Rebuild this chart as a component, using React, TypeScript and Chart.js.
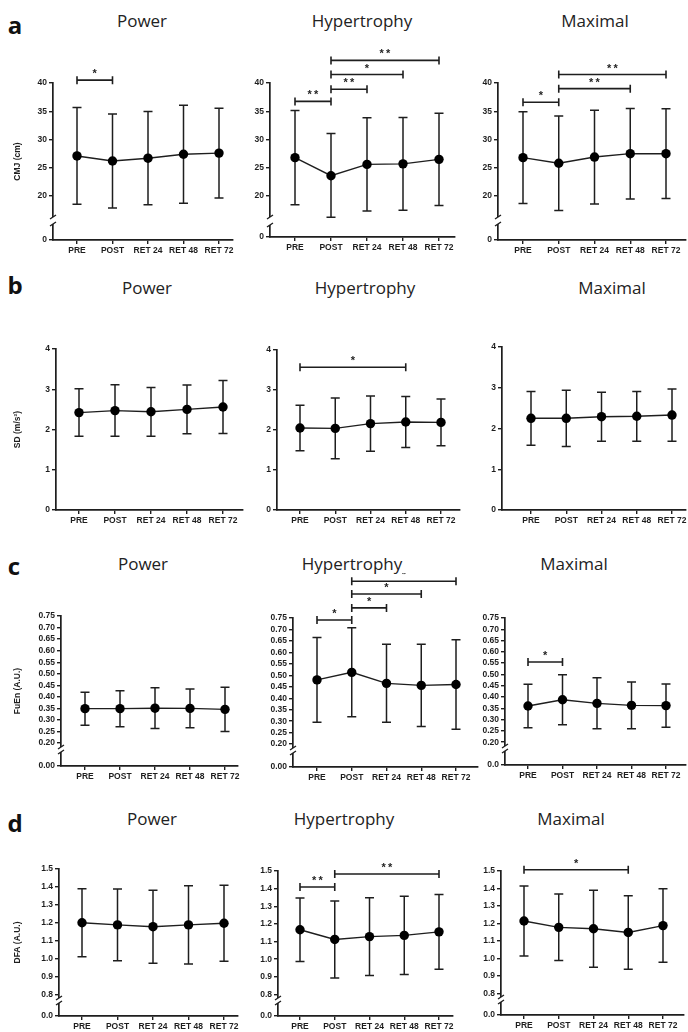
import React, { useEffect, useRef } from 'react';
import { Chart, registerables, LinearScale } from 'chart.js';

// ---------- DATA ----------
const categories = ['PRE', 'POST', 'RET 24', 'RET 48', 'RET 72'];

const cmjTickValues = [0, 20, 25, 30, 35, 40];
const cmjTickLabels = ['0', '20', '25', '30', '35', '40'];
const cmjPowerMean = [27.1, 26.2, 26.7, 27.4, 27.6];
const cmjPowerSD = [8.55, 8.3, 8.25, 8.65, 7.95];
const cmjHypMean = [26.8, 23.6, 25.6, 25.7, 26.5];
const cmjHypSD = [8.35, 7.45, 8.25, 8.2, 8.15];
const cmjMaxMean = [26.8, 25.8, 26.9, 27.5, 27.5];
const cmjMaxSD = [8.1, 8.35, 8.3, 8.0, 7.95];
const cmjPowerSig: [number, number, string, number][] = [[0, 1, '*', 40.5]];
const cmjHypSig: [number, number, string, number][] = [[0, 1, '**', 36.75], [1, 2, '**', 38.9], [1, 3, '*', 41.5], [1, 4, '**', 44.0]];
const cmjMaxSig: [number, number, string, number][] = [[0, 1, '*', 36.6], [1, 3, '**', 39.0], [1, 4, '**', 41.5]];

const sdTickValues = [0, 1, 2, 3, 4];
const sdTickLabels = ['0', '1', '2', '3', '4'];
const sdPowerMean = [2.42, 2.47, 2.44, 2.5, 2.56];
const sdPowerSD = [0.59, 0.64, 0.605, 0.605, 0.66];
const sdHypMean = [2.05, 2.04, 2.16, 2.2, 2.19];
const sdHypSD = [0.57, 0.76, 0.69, 0.64, 0.585];
const sdMaxMean = [2.25, 2.25, 2.29, 2.3, 2.33];
const sdMaxSD = [0.66, 0.69, 0.6, 0.61, 0.64];
const sdHypSig: [number, number, string, number][] = [[0, 3, '*', 3.57]];

const fuTickValues = [0, 0.2, 0.25, 0.3, 0.35, 0.4, 0.45, 0.5, 0.55, 0.6, 0.65, 0.7, 0.75];
const fuTickLabels = ['0.00', '0.20', '0.25', '0.30', '0.35', '0.40', '0.45', '0.50', '0.55', '0.60', '0.65', '0.70', '0.75'];
const fuMaxTickLabels = ['0.0', '0.20', '0.25', '0.30', '0.35', '0.40', '0.45', '0.50', '0.55', '0.60', '0.65', '0.70', '0.75'];
const fuPowerMean = [0.349, 0.349, 0.351, 0.35, 0.346];
const fuPowerSD = [0.0715, 0.078, 0.088, 0.0835, 0.0955];
const fuHypMean = [0.48, 0.513, 0.465, 0.456, 0.46];
const fuHypSD = [0.185, 0.194, 0.17, 0.179, 0.195];
const fuMaxMean = [0.36, 0.388, 0.372, 0.363, 0.362];
const fuMaxSD = [0.096, 0.111, 0.113, 0.104, 0.096];
const fuHypSig: [number, number, string, number][] = [[0, 1, '*', 0.741], [1, 2, '*', 0.794], [1, 3, '*', 0.855], [1, 4, '*', 0.91]];
const fuMaxSig: [number, number, string, number][] = [[0, 1, '*', 0.555]];

const dfaTickValues = [0, 0.8, 0.9, 1.0, 1.1, 1.2, 1.3, 1.4, 1.5];
const dfaTickLabels = ['0.0', '0.8', '0.9', '1.0', '1.1', '1.2', '1.3', '1.4', '1.5'];
const dfaPowerMean = [1.2, 1.188, 1.178, 1.188, 1.197];
const dfaPowerSD = [0.19, 0.2, 0.204, 0.218, 0.212];
const dfaHypMean = [1.167, 1.112, 1.128, 1.135, 1.155];
const dfaHypSD = [0.18, 0.218, 0.22, 0.222, 0.212];
const dfaMaxMean = [1.214, 1.178, 1.17, 1.149, 1.188];
const dfaMaxSD = [0.2, 0.19, 0.22, 0.21, 0.21];
const dfaHypSig: [number, number, string, number][] = [[0, 1, '**', 1.409], [1, 4, '**', 1.483]];
const dfaMaxSig: [number, number, string, number][] = [[0, 3, '*', 1.507]];

// ---------- custom broken-axis scale ----------
class BrokenScale extends LinearScale {
  static id = 'broken';
  static defaults = LinearScale.defaults;
  getPixelForValue(value: number) {
    const b = (this.options as any).brk;
    if (!b || !b.on) return super.getPixelForValue(value);
    const top = this.top;
    const bottom = this.bottom;
    const segBottom = bottom - b.gap;
    if (value < b.u) return bottom - (value / b.u) * b.gap;
    return segBottom - ((value - b.u) / ((this.max as number) - b.u)) * (segBottom - top);
  }
}
Chart.register(...registerables, BrokenScale);

// ---------- layout ----------
type Sig = [number, number, string, number];
interface Panel {
  mean: number[]; sd: number[]; sig: Sig[];
  tickValues: number[]; tickLabels: string[]; max: number;
  brk: { on: boolean; u: number; gap: number; low: number };
  axisX: number; firstX: number; lastX: number; xEnd: number; yTop: number; yBot: number;
  col: number; yTitle: string;
}

const cmjBrk = { on: true, u: 16.3, gap: 23, low: 16 };
const fuBrk = { on: true, u: 0.183, gap: 19, low: 14 };
const dfaBrk = { on: true, u: 0.78, gap: 18, low: 13 };
const noBrk = { on: false, u: 0, gap: 0, low: 0 };

const panels: Panel[] = [
  { mean: cmjPowerMean, sd: cmjPowerSD, sig: cmjPowerSig, tickValues: cmjTickValues, tickLabels: cmjTickLabels, max: 40, brk: cmjBrk, axisX: 53, firstX: 77, lastX: 219, xEnd: 233, yTop: 83, yBot: 240, col: 0, yTitle: 'CMJ (cm)' },
  { mean: cmjHypMean, sd: cmjHypSD, sig: cmjHypSig, tickValues: cmjTickValues, tickLabels: cmjTickLabels, max: 40, brk: { on: true, u: 16.3, gap: 20, low: 12 }, axisX: 270, firstX: 295, lastX: 439, xEnd: 455, yTop: 83, yBot: 237, col: 1, yTitle: '' },
  { mean: cmjMaxMean, sd: cmjMaxSD, sig: cmjMaxSig, tickValues: cmjTickValues, tickLabels: cmjTickLabels, max: 40, brk: cmjBrk, axisX: 498, firstX: 523, lastX: 666, xEnd: 686, yTop: 83, yBot: 240, col: 2, yTitle: '' },

  { mean: sdPowerMean, sd: sdPowerSD, sig: [], tickValues: sdTickValues, tickLabels: sdTickLabels, max: 4, brk: noBrk, axisX: 56, firstX: 79, lastX: 223, xEnd: 243, yTop: 349, yBot: 510, col: 0, yTitle: 'SD (m/s²)' },
  { mean: sdHypMean, sd: sdHypSD, sig: sdHypSig, tickValues: sdTickValues, tickLabels: sdTickLabels, max: 4, brk: noBrk, axisX: 277, firstX: 300, lastX: 441, xEnd: 460, yTop: 350, yBot: 510, col: 1, yTitle: '' },
  { mean: sdMaxMean, sd: sdMaxSD, sig: [], tickValues: sdTickValues, tickLabels: sdTickLabels, max: 4, brk: noBrk, axisX: 502, firstX: 531, lastX: 672, xEnd: 686, yTop: 347, yBot: 510, col: 2, yTitle: '' },

  { mean: fuPowerMean, sd: fuPowerSD, sig: [], tickValues: fuTickValues, tickLabels: fuTickLabels, max: 0.75, brk: fuBrk, axisX: 61, firstX: 85, lastX: 225, xEnd: 238, yTop: 616, yBot: 766, col: 0, yTitle: 'FuEn (A.U.)' },
  { mean: fuHypMean, sd: fuHypSD, sig: fuHypSig, tickValues: fuTickValues, tickLabels: fuTickLabels, max: 0.75, brk: fuBrk, axisX: 293, firstX: 317, lastX: 456, xEnd: 478, yTop: 618, yBot: 767, col: 1, yTitle: '' },
  { mean: fuMaxMean, sd: fuMaxSD, sig: fuMaxSig, tickValues: fuTickValues, tickLabels: fuMaxTickLabels, max: 0.75, brk: fuBrk, axisX: 505, firstX: 528, lastX: 666, xEnd: 686, yTop: 618, yBot: 765, col: 2, yTitle: '' },

  { mean: dfaPowerMean, sd: dfaPowerSD, sig: [], tickValues: dfaTickValues, tickLabels: dfaTickLabels, max: 1.5, brk: dfaBrk, axisX: 59, firstX: 82, lastX: 224, xEnd: 238, yTop: 869, yBot: 1016, col: 0, yTitle: 'DFA (A.U.)' },
  { mean: dfaHypMean, sd: dfaHypSD, sig: dfaHypSig, tickValues: dfaTickValues, tickLabels: dfaTickLabels, max: 1.5, brk: dfaBrk, axisX: 278, firstX: 300, lastX: 439, xEnd: 453, yTop: 871, yBot: 1016, col: 1, yTitle: '' },
  { mean: dfaMaxMean, sd: dfaMaxSD, sig: dfaMaxSig, tickValues: dfaTickValues, tickLabels: dfaTickLabels, max: 1.5, brk: dfaBrk, axisX: 501, firstX: 524, lastX: 663, xEnd: 684, yTop: 871, yBot: 1015, col: 2, yTitle: '' },
];

const titles = [
  { t: 'Power', x: 142, y: 20 }, { t: 'Hypertrophy', x: 362, y: 20 }, { t: 'Maximal', x: 595, y: 20 },
  { t: 'Power', x: 147, y: 287 }, { t: 'Hypertrophy', x: 365, y: 287 }, { t: 'Maximal', x: 612, y: 287 },
  { t: 'Power', x: 143, y: 563 }, { t: 'Hypertrophy', x: 352, y: 563 }, { t: 'Maximal', x: 574, y: 563 },
  { t: 'Power', x: 152, y: 818 }, { t: 'Hypertrophy', x: 344, y: 818 }, { t: 'Maximal', x: 571, y: 818 },
];
const letters = [
  { t: 'a', x: 15, y: 25 }, { t: 'b', x: 15, y: 285 }, { t: 'c', x: 14, y: 566 }, { t: 'd', x: 15, y: 823 },
];

const PAD_T = 45;
const PAD_R = 22;
const X_H = 24;
const INK = '#1e1e1e';
const TICK_FONT = { family: 'Liberation Sans, Arial, sans-serif', size: 8.5, weight: 'bold' as const };

function geom(p: Panel) {
  const yW = p.col === 0 ? p.axisX - 9 : 36;
  const left = p.axisX - yW;
  const width = yW + (p.xEnd - p.axisX) + PAD_R;
  const top = p.yTop - PAD_T;
  const height = PAD_T + (p.yBot - p.yTop) + X_H;
  const sp = (p.lastX - p.firstX) / 4;
  const xMin = -(p.firstX - p.axisX) / sp;
  const xMax = 4 + (p.xEnd - p.lastX) / sp;
  return { yW, left, width, top, height, xMin, xMax };
}

function makeConfig(p: Panel): any {
  const g = geom(p);
  const deco = {
    id: 'deco',
    beforeDatasetsDraw(chart: any) {
      const ctx = chart.ctx;
      const xs = chart.scales.x;
      const ys = chart.scales.y;
      ctx.save();
      ctx.strokeStyle = INK;
      ctx.lineWidth = 1.5;
      p.mean.forEach((m, i) => {
        const x = xs.getPixelForValue(i);
        const y1 = ys.getPixelForValue(m + p.sd[i]);
        const y2 = ys.getPixelForValue(m - p.sd[i]);
        ctx.beginPath();
        ctx.moveTo(x, y1); ctx.lineTo(x, y2);
        ctx.moveTo(x - 4.5, y1); ctx.lineTo(x + 4.5, y1);
        ctx.moveTo(x - 4.5, y2); ctx.lineTo(x + 4.5, y2);
        ctx.stroke();
      });
      ctx.restore();
    },
    afterDraw(chart: any) {
      const ctx = chart.ctx;
      const xs = chart.scales.x;
      const ys = chart.scales.y;
      const area = chart.chartArea;
      ctx.save();
      if (p.brk.on) {
        const ax = area.left;
        const yA = area.bottom - p.brk.gap;
        const yB = area.bottom - p.brk.low;
        ctx.fillStyle = '#fff';
        ctx.fillRect(ax - 2.5, yA, 5, yB - yA);
        ctx.strokeStyle = INK;
        ctx.lineWidth = 1.4;
        ctx.beginPath();
        ctx.moveTo(ax - 3, yA + 2); ctx.lineTo(ax + 3, yA - 2);
        ctx.moveTo(ax - 3, yB + 2); ctx.lineTo(ax + 3, yB - 2);
        ctx.stroke();
      }
      ctx.strokeStyle = INK;
      ctx.fillStyle = INK;
      ctx.lineWidth = 1.6;
      ctx.font = 'bold 11px "Liberation Sans", Arial, sans-serif';
      ctx.textAlign = 'center';
      ctx.textBaseline = 'middle';
      p.sig.forEach(([a, b, label, lvl]) => {
        const x1 = xs.getPixelForValue(a);
        const x2 = xs.getPixelForValue(b);
        const y = ys.getPixelForValue(lvl);
        ctx.beginPath();
        ctx.moveTo(x1, y); ctx.lineTo(x2, y);
        ctx.moveTo(x1, y - 4); ctx.lineTo(x1, y + 4);
        ctx.moveTo(x2, y - 4); ctx.lineTo(x2, y + 4);
        ctx.stroke();
        ctx.fillText(label.split('').join('\u2009'), (x1 + x2) / 2, y - 6);
      });
      ctx.restore();
    },
  };
  return {
    type: 'line',
    data: {
      datasets: [{
        data: p.mean.map((m, i) => ({ x: i, y: m })),
        borderColor: INK,
        borderWidth: 1.4,
        pointRadius: 4.7,
        pointBackgroundColor: '#000',
        pointBorderColor: '#000',
        pointBorderWidth: 0,
        tension: 0,
      }],
    },
    options: {
      responsive: false,
      animation: false,
      devicePixelRatio: 1,
      events: [],
      layout: { padding: { top: PAD_T, right: PAD_R, left: 0, bottom: 0 } },
      plugins: { legend: { display: false }, tooltip: { enabled: false } },
      scales: {
        x: {
          type: 'linear',
          min: g.xMin,
          max: g.xMax,
          afterBuildTicks: (s: any) => { s.ticks = categories.map((_, i) => ({ value: i })); },
          afterFit: (s: any) => { s.height = X_H; },
          ticks: {
            callback: (v: number) => categories[Math.round(v)],
            autoSkip: false, maxRotation: 0, minRotation: 0,
            font: TICK_FONT, color: INK, padding: 2,
          },
          grid: { display: true, drawOnChartArea: false, drawTicks: true, tickLength: 4, color: INK, lineWidth: 1.4 },
          border: { display: true, color: INK, width: 1.7 },
        },
        y: {
          type: 'broken',
          min: 0,
          max: p.max,
          brk: p.brk,
          afterBuildTicks: (s: any) => { s.ticks = p.tickValues.map((v) => ({ value: v })); },
          afterFit: (s: any) => { s.width = g.yW; },
          ticks: {
            callback: (_v: number, i: number) => p.tickLabels[i],
            autoSkip: false, font: TICK_FONT, color: INK, padding: 2,
          },
          grid: { display: true, drawOnChartArea: false, drawTicks: true, tickLength: 4, color: INK, lineWidth: 1.4 },
          border: { display: true, color: INK, width: 1.7 },
          title: {
            display: p.yTitle !== '',
            text: p.yTitle,
            color: INK,
            font: { family: 'Liberation Sans, Arial, sans-serif', size: 8.5, weight: 'bold' },
            padding: { top: 4, bottom: 4 },
          },
        },
      },
    },
    plugins: [deco],
  };
}

export default function App() {
  const refs = useRef<(HTMLCanvasElement | null)[]>([]);
  useEffect(() => {
    const charts = panels.map((p, i) => new Chart(refs.current[i] as HTMLCanvasElement, makeConfig(p)));
    return () => charts.forEach((c) => c.destroy());
  }, []);
  return (
    <div style={{ position: 'absolute', left: 0, top: 0, width: 688, height: 1032, background: '#fff', overflow: 'hidden' }}>
      {titles.map((t, i) => (
        <div key={'t' + i} style={{ position: 'absolute', left: t.x, top: t.y, transform: 'translate(-50%, -50%)', fontFamily: '"Open Sans", "Noto Sans", sans-serif', fontSize: 17, color: '#222', whiteSpace: 'nowrap', lineHeight: 1 }}>{t.t}</div>
      ))}
      {letters.map((t, i) => (
        <div key={'l' + i} style={{ position: 'absolute', left: t.x, top: t.y, transform: 'translate(-50%, -50%)', fontFamily: '"Open Sans", "Noto Sans", sans-serif', fontSize: 24, fontWeight: 700, color: '#111', lineHeight: 1 }}>{t.t}</div>
      ))}
      {panels.map((p, i) => {
        const g = geom(p);
        return (
          <canvas
            key={'c' + i}
            ref={(el) => { refs.current[i] = el; }}
            width={g.width}
            height={g.height}
            style={{ position: 'absolute', left: g.left, top: g.top, width: g.width, height: g.height }}
          />
        );
      })}
    </div>
  );
}
